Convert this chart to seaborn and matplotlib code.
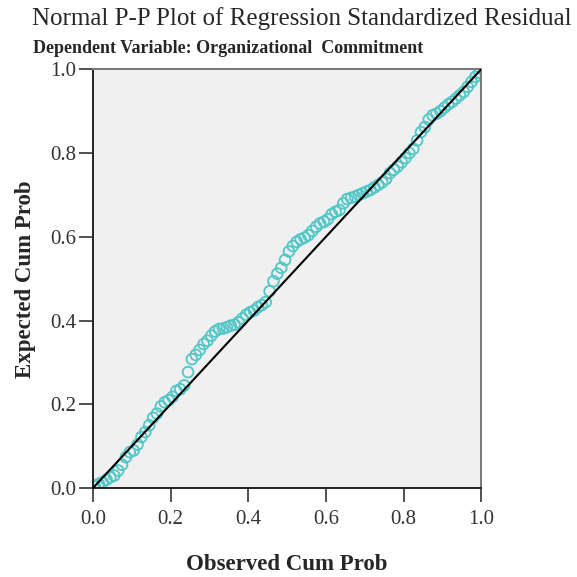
import numpy as np
import pandas as pd
import matplotlib
matplotlib.use("Agg")
import matplotlib.pyplot as plt
import seaborn as sns

# observed cumulative probability (x) and expected cumulative probability (y)
observed_cum_prob = [
    0.005, 0.015, 0.025, 0.035, 0.045, 0.055, 0.065, 0.075, 0.085, 0.095,
    0.105, 0.115, 0.125, 0.135, 0.145, 0.155, 0.165, 0.175, 0.185, 0.195,
    0.205, 0.215, 0.225, 0.235, 0.245, 0.255, 0.265, 0.275, 0.285, 0.295,
    0.305, 0.315, 0.325, 0.335, 0.345, 0.355, 0.365, 0.375, 0.385, 0.395,
    0.405, 0.415, 0.425, 0.435, 0.445, 0.455, 0.465, 0.475, 0.485, 0.495,
    0.505, 0.515, 0.525, 0.535, 0.545, 0.555, 0.565, 0.575, 0.585, 0.595,
    0.605, 0.615, 0.625, 0.635, 0.645, 0.655, 0.665, 0.675, 0.685, 0.695,
    0.705, 0.715, 0.725, 0.735, 0.745, 0.755, 0.765, 0.775, 0.785, 0.795,
    0.805, 0.815, 0.825, 0.835, 0.845, 0.855, 0.865, 0.875, 0.885, 0.895,
    0.905, 0.915, 0.925, 0.935, 0.945, 0.955, 0.965, 0.975, 0.985, 0.995,
]
expected_cum_prob = [
    0.004, 0.010, 0.014, 0.020, 0.026, 0.030, 0.042, 0.056, 0.074, 0.086,
    0.090, 0.104, 0.122, 0.134, 0.150, 0.168, 0.178, 0.195, 0.205, 0.210,
    0.218, 0.232, 0.236, 0.245, 0.277, 0.308, 0.318, 0.330, 0.344, 0.352,
    0.364, 0.374, 0.380, 0.381, 0.384, 0.388, 0.390, 0.396, 0.405, 0.414,
    0.420, 0.424, 0.432, 0.437, 0.444, 0.470, 0.494, 0.512, 0.526, 0.545,
    0.565, 0.578, 0.588, 0.594, 0.598, 0.604, 0.614, 0.624, 0.632, 0.636,
    0.642, 0.654, 0.660, 0.664, 0.680, 0.690, 0.693, 0.696, 0.700, 0.704,
    0.708, 0.712, 0.718, 0.724, 0.730, 0.738, 0.752, 0.760, 0.768, 0.778,
    0.788, 0.800, 0.810, 0.830, 0.850, 0.862, 0.880, 0.890, 0.894, 0.900,
    0.908, 0.916, 0.922, 0.930, 0.938, 0.946, 0.958, 0.970, 0.982, 0.992,
]
reference_line = [0.0, 1.0]
tick_values = [0.0, 0.2, 0.4, 0.6, 0.8, 1.0]
tick_labels = ["0.0", "0.2", "0.4", "0.6", "0.8", "1.0"]

df = pd.DataFrame({"Observed": observed_cum_prob, "Expected": expected_cum_prob})

sns.set_style("white")
plt.rcParams["font.family"] = ["Liberation Serif", "DejaVu Serif"]

fig = plt.figure(figsize=(5.77, 5.77), dpi=100)
ax = fig.add_axes([0.161, 0.154, 0.673, 0.726])
ax.set_facecolor("#f0f0f0")

sns.scatterplot(data=df, x="Observed", y="Expected", ax=ax, marker="o",
                s=60, facecolors="none", edgecolor="#52c6c6", linewidth=1.3,
                zorder=2)
sns.lineplot(x=reference_line, y=reference_line, ax=ax, color="black",
             linewidth=1.5, zorder=3)

ax.set_xlim(0, 1)
ax.set_ylim(0, 1)
ax.set_xticks(tick_values)
ax.set_xticklabels(tick_labels)
ax.set_yticks(tick_values)
ax.set_yticklabels(tick_labels)
ax.tick_params(axis="both", direction="out", length=10, width=1.2,
               color="#333333", labelcolor="#333333", labelsize=15,
               bottom=True, left=True)
ax.tick_params(axis="x", pad=6)
ax.tick_params(axis="y", pad=2)
for side in ["left", "bottom"]:
    ax.spines[side].set_color("#222222")
    ax.spines[side].set_linewidth(1.4)
for side in ["top", "right"]:
    ax.spines[side].set_color("#777777")
    ax.spines[side].set_linewidth(1.4)

ax.set_xlabel("Observed Cum Prob", fontsize=16.5, fontweight="bold", labelpad=18)
ax.set_ylabel("Expected Cum Prob", fontsize=16.5, fontweight="bold", labelpad=10)

fig.text(0.523, 0.968, "Normal P-P Plot of Regression Standardized Residual",
         ha="center", va="center", fontsize=18)
fig.text(0.057, 0.916, "Dependent Variable: Organizational  Commitment",
         ha="left", va="center", fontsize=13, fontweight="bold")

fig.savefig("out.png", dpi=100)
